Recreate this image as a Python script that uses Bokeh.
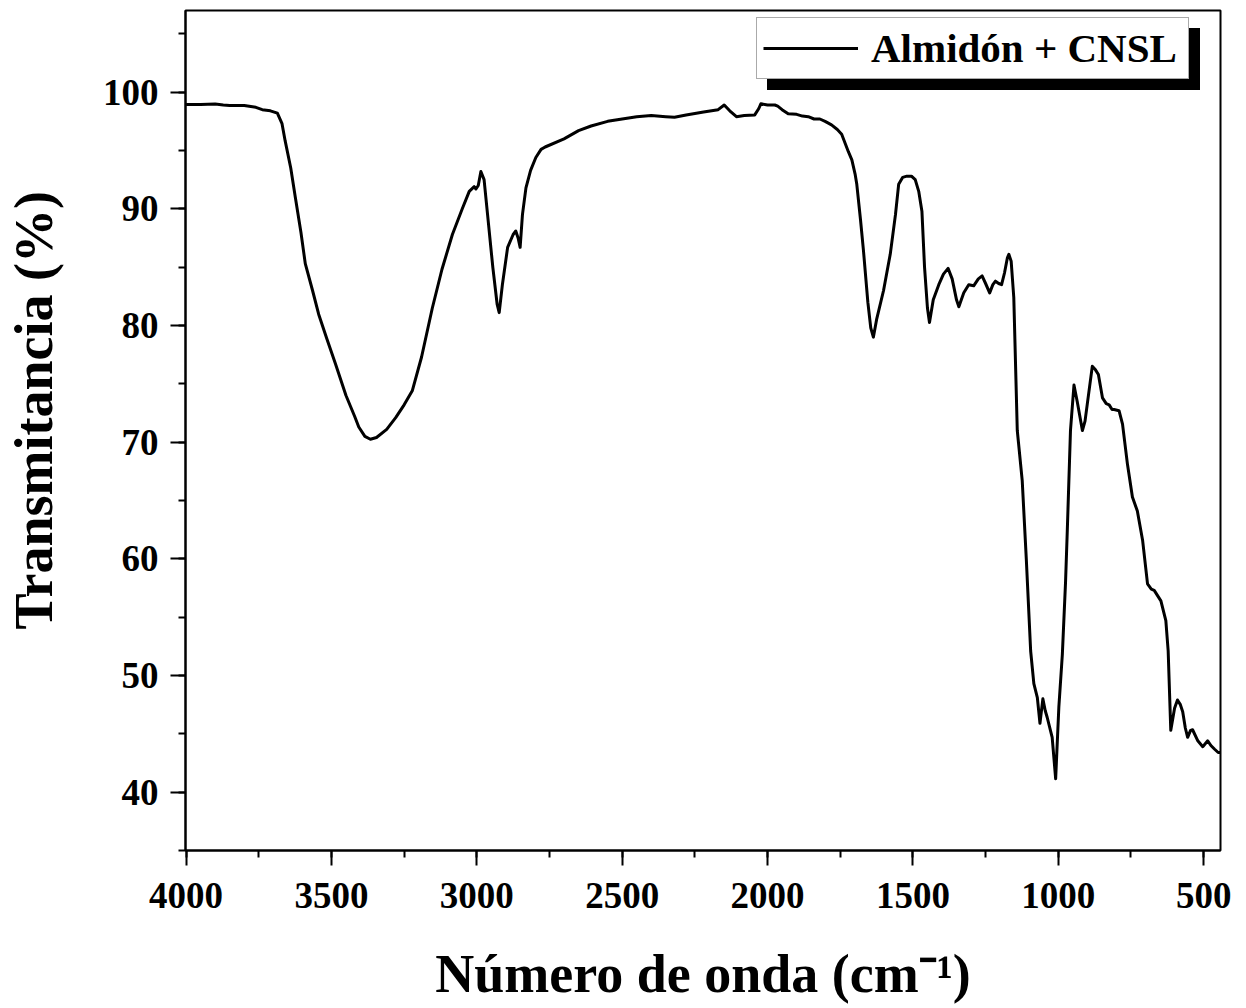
from bokeh.plotting import figure
from bokeh.models import Range1d, SingleIntervalTicker, Legend, LegendItem, ColumnDataSource
from bokeh.embed import file_html
from bokeh.resources import INLINE

series_name = "Almidón + CNSL"

wavenumber = [
    4000, 3950, 3900, 3872, 3850, 3800, 3760, 3738, 3710, 3686,
    3670, 3659, 3640, 3624, 3605, 3590, 3565, 3544, 3515, 3486,
    3450, 3420, 3406, 3385, 3366, 3345, 3310, 3279, 3250, 3222,
    3190, 3153, 3120, 3084, 3050, 3026, 3009, 3003, 2995, 2986,
    2975, 2963, 2945, 2930, 2923, 2912, 2894, 2875, 2866, 2858,
    2851, 2843, 2831, 2815, 2797, 2779, 2765, 2700, 2650, 2607,
    2550, 2500, 2450, 2400, 2350, 2320, 2280, 2220, 2170, 2149,
    2130, 2107, 2080, 2044, 2030, 2023, 2000, 1975, 1965, 1950,
    1929, 1900, 1880, 1860, 1840, 1820, 1802, 1780, 1760, 1745,
    1722, 1710, 1699, 1693, 1680, 1670, 1655, 1645, 1636, 1625,
    1601, 1578, 1560, 1549, 1535, 1521, 1505, 1492, 1480, 1469,
    1460, 1450, 1443, 1430, 1411, 1395, 1379, 1365, 1350, 1342,
    1325, 1308, 1291, 1275, 1262, 1250, 1236, 1225, 1216, 1205,
    1195, 1185, 1175, 1170, 1162, 1153, 1141, 1124, 1110, 1095,
    1084, 1072, 1063, 1053, 1045, 1038, 1021, 1009, 998, 986,
    975, 969, 958, 946, 935, 917, 908, 900, 883, 872,
    862, 848, 835, 825, 815, 808, 791, 779, 762, 745,
    728, 710, 693, 680, 670, 647, 630, 622, 613, 600,
    590, 580, 572, 563, 555, 545, 538, 520, 503, 486,
    475, 463, 450, 442,
]

transmittance = [
    98.95, 98.95, 98.98, 98.9, 98.85, 98.85, 98.7, 98.5, 98.4, 98.2,
    97.3, 95.8, 93.5, 90.95, 88.0, 85.3, 83.0, 80.97, 78.8, 76.7,
    74.0, 72.2, 71.3, 70.5, 70.25, 70.4, 71.1, 72.1, 73.2, 74.4,
    77.3, 81.5, 84.8, 87.8, 90.0, 91.5, 91.9, 91.7, 92.0, 93.2,
    92.5, 89.5, 85.0, 81.8, 81.1, 83.5, 86.7, 87.8, 88.1, 87.5,
    86.7, 89.5, 91.8, 93.3, 94.4, 95.1, 95.3, 96.0, 96.7, 97.1,
    97.5, 97.7, 97.9, 98.0, 97.9, 97.85, 98.05, 98.3, 98.5, 98.9,
    98.4, 97.9, 98.0, 98.05, 98.6, 99.0, 98.9, 98.9, 98.8, 98.5,
    98.15, 98.1, 97.95, 97.9, 97.7, 97.7, 97.5, 97.2, 96.8, 96.4,
    94.9, 94.2, 93.0, 92.1, 89.0, 86.4, 82.0, 79.8, 79.0, 80.5,
    83.0, 86.1, 89.5, 92.1, 92.7, 92.8, 92.8, 92.5, 91.5, 89.8,
    85.0, 81.5, 80.25, 82.2, 83.5, 84.4, 84.9, 84.0, 82.2, 81.6,
    82.8, 83.5, 83.4, 84.0, 84.25, 83.6, 82.8, 83.5, 83.8, 83.6,
    83.5, 84.5, 85.8, 86.1, 85.5, 82.4, 71.0, 66.7, 60.0, 52.1,
    49.3, 48.1, 45.9, 48.0, 47.0, 46.4, 44.7, 41.15, 47.3, 51.8,
    58.0, 62.4, 71.0, 74.9, 73.5, 71.0, 71.8, 73.3, 76.5, 76.2,
    75.8, 73.8, 73.3, 73.2, 72.8, 72.8, 72.7, 71.55, 68.1, 65.3,
    64.1, 61.6, 57.85, 57.4, 57.3, 56.4, 54.7, 52.1, 45.3, 47.2,
    47.9, 47.5, 46.9, 45.5, 44.7, 45.3, 45.35, 44.4, 43.9, 44.4,
    44.0, 43.7, 43.4, 43.4,
]

x_ticks = [4000, 3500, 3000, 2500, 2000, 1500, 1000, 500]
y_ticks = [40, 50, 60, 70, 80, 90, 100]

FONT = "Liberation Serif"

source = ColumnDataSource(data=dict(wn=wavenumber, t=transmittance))

p = figure(
    width=1246, height=1008,
    output_backend="svg", toolbar_location=None,
    x_range=Range1d(4002, 442), y_range=Range1d(35, 107),
    min_border_left=185, min_border_right=26, min_border_top=10, min_border_bottom=158,
    title=None,
)
p.grid.visible = False
p.background_fill_color = "white"
p.border_fill_color = "white"
p.outline_line_color = "black"
p.outline_line_width = 2

r = p.line("wn", "t", source=source, line_color="black", line_width=3,
           line_join="round")

for ax in (p.xaxis[0], p.yaxis[0]):
    ax.axis_line_width = 2
    ax.axis_line_color = "black"
    ax.major_tick_line_width = 2
    ax.minor_tick_line_width = 2
    ax.major_tick_out = 15
    ax.major_tick_in = 0
    ax.minor_tick_out = 7
    ax.minor_tick_in = 0
    ax.major_label_text_font = FONT
    ax.major_label_text_font_style = "bold"
    ax.major_label_text_font_size = "37px"
    ax.major_label_text_color = "black"
    ax.axis_label_text_font = FONT
    ax.axis_label_text_font_style = "bold"
    ax.axis_label_text_font_size = "54px"
    ax.axis_label_text_color = "black"

p.xaxis[0].ticker = SingleIntervalTicker(interval=500, num_minor_ticks=2)
p.yaxis[0].ticker = SingleIntervalTicker(interval=10, num_minor_ticks=2)
p.xaxis[0].major_label_overrides = {v: str(v) for v in x_ticks}
p.yaxis[0].major_label_overrides = {v: str(v) for v in y_ticks}
p.xaxis[0].major_label_standoff = 17
p.yaxis[0].major_label_standoff = 12
p.xaxis[0].axis_label = "Número de onda (cm⁻¹)"
p.yaxis[0].axis_label = "\u00a0\u00a0\u00a0Transmitancia (%)"
p.xaxis[0].axis_label_standoff = 33
p.yaxis[0].axis_label_standoff = 36

common = dict(
    label_text_font=FONT, label_text_font_style="bold",
    label_text_font_size="41px",
    glyph_width=95, glyph_height=20, label_standoff=13, padding=6,
    margin=0, spacing=0, label_width=311, label_height=47,
)

# shadow legend (black, offset) drawn first
shadow = Legend(
    items=[LegendItem(label="\u00a0", renderers=[r])],
    location=(582, 760),
    background_fill_color="black", background_fill_alpha=1.0,
    border_line_color="black", border_line_width=1,
    label_text_color="black", label_text_alpha=0.0,
    **common,
)
legend = Legend(
    items=[LegendItem(label=series_name, renderers=[r])],
    location=(571, 771),
    background_fill_color="white", background_fill_alpha=1.0,
    border_line_color="#555555", border_line_width=1.5,
    label_text_color="black",
    **common,
)
p.add_layout(shadow)
p.add_layout(legend)

open("out.html", "w").write(file_html(p, INLINE))
